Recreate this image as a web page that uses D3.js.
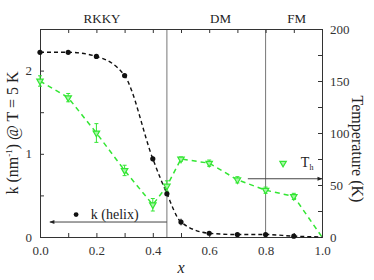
<!DOCTYPE html>
<html>
<head>
<meta charset="utf-8">
<script src="https://cdn.jsdelivr.net/npm/d3@7"></script>
<style>
  body { margin: 0; background: #fff; }
  svg, svg text { font-family: 'Liberation Serif', 'Times New Roman', Times, serif !important; }
</style>
</head>
<body>
<div id="chart"></div>
<script>
// k of the helix (left axis) vs concentration x
const kX   = [0, 0.1, 0.2, 0.3, 0.4, 0.45, 0.5, 0.6, 0.7, 0.8, 0.9];
const kVal = [2.22, 2.22, 2.17, 1.94, 0.94, 0.52, 0.18, 0.045, 0.03, 0.03, 0.01];
const kErr = [0, 0, 0, 0, 0.03, 0.03, 0.04, 0, 0, 0, 0];
// dashed guide for k ends at x = 1
const kLineX = [0, 0.1, 0.2, 0.3, 0.4, 0.45, 0.5, 0.6, 0.7, 0.8, 0.9, 1.0];
const kLineV = [2.22, 2.22, 2.17, 1.94, 0.94, 0.52, 0.18, 0.045, 0.03, 0.03, 0.01, 0];

// T_h (right axis)
const tX   = [0, 0.1, 0.2, 0.3, 0.4, 0.45, 0.5, 0.6, 0.7, 0.8, 0.9, 1.0];
const tVal = [150, 134, 100, 64, 31, 49, 75, 71, 55, 45, 39, 0];
const tErr = [5, 4, 9, 5, 6, 5, 2, 3, 3, 3, 3, 0];
const tMarkers = 11; // last point (x = 1) has no marker

const phaseLines = [0.45, 0.8];
const phaseLabels = [{ name: 'RKKY', x: 0.22 }, { name: 'DM', x: 0.64 }, { name: 'FM', x: 0.91 }];

const xTicks = [0, 0.2, 0.4, 0.6, 0.8, 1.0];
const kTicks = [0, 1, 2];
const tTicks = [0, 50, 100, 150, 200];

const W = 374, H = 280;
const margin = { top: 29, right: 52, bottom: 43, left: 40 };
const width = W - margin.left - margin.right,
      height = H - margin.top - margin.bottom;

const green = '#33e633';
const serif = "'Liberation Serif', 'Times New Roman', serif";

const svg = d3.select('#chart').append('svg')
    .attr('width', W)
    .attr('height', H)
    .attr('font-family', serif);
const g = svg.append('g')
    .attr('transform', `translate(${margin.left},${margin.top})`);

const x = d3.scaleLinear().domain([0, 1]).range([0, width]);
const yK = d3.scaleLinear().domain([0, 2.5]).range([height, 0]);
const yT = d3.scaleLinear().domain([0, 200]).range([height, 0]);

// phase boundaries
g.selectAll('.phase')
    .data(phaseLines)
    .enter().append('line')
    .attr('x1', d => x(d)).attr('x2', d => x(d))
    .attr('y1', 0).attr('y2', height)
    .attr('stroke', '#777').attr('stroke-width', 1);

g.selectAll('.plabel')
    .data(phaseLabels)
    .enter().append('text')
    .attr('x', d => x(d.x))
    .attr('y', -6)
    .attr('text-anchor', 'middle')
    .attr('fill', '#222')
    .style('font-size', '13px')
    .text(d => d.name);

// axes (ticks inward)
function styleAxis(sel) {
    sel.attr('font-family', serif);
    sel.select('.domain').attr('stroke', '#333');
    sel.selectAll('.tick line').attr('stroke', '#333');
    sel.selectAll('.tick text').attr('font-size', 13).attr('fill', '#333');
}

const minorX = d3.range(0, 1.001, 0.1);

g.append('g')
    .attr('transform', `translate(0,${height})`)
    .call(d3.axisBottom(x).tickValues(minorX).tickSize(-4).tickPadding(9)
        .tickFormat(d => xTicks.some(t => Math.abs(t - d) < 1e-6) ? d3.format('.1f')(d) : ''))
    .call(styleAxis);

g.append('g')
    .call(d3.axisTop(x).tickValues(minorX).tickSize(-4).tickFormat(''))
    .call(styleAxis);

g.append('g')
    .call(d3.axisLeft(yK).tickValues(d3.range(0, 2.51, 0.5)).tickSize(-4).tickPadding(8)
        .tickFormat(d => kTicks.includes(d) ? d : ''))
    .call(styleAxis);

g.append('g')
    .attr('transform', `translate(${width},0)`)
    .call(d3.axisRight(yT).tickValues(d3.range(0, 201, 25)).tickSize(-4).tickPadding(8)
        .tickFormat(d => tTicks.includes(d) ? d : ''))
    .call(styleAxis);

// axis titles
const leftTitle = svg.append('text')
    .attr('transform', `translate(18,${margin.top + height / 2}) rotate(-90)`)
    .attr('text-anchor', 'middle')
    .attr('fill', '#222')
    .style('font-size', '16px');
leftTitle.append('tspan').text('k (nm');
leftTitle.append('tspan').attr('dy', -6).style('font-size', '9px').text('-1');
leftTitle.append('tspan').attr('dy', 6).text(') @ T = 5 K');

svg.append('text')
    .attr('transform', `translate(352,${margin.top + height / 2 + 16}) rotate(90)`)
    .attr('text-anchor', 'middle')
    .attr('fill', '#222')
    .style('font-size', '16px')
    .text('Temperature (K)');

svg.append('text')
    .attr('x', margin.left + width / 2)
    .attr('y', 273)
    .attr('text-anchor', 'middle')
    .attr('fill', '#222')
    .style('font-size', '16px')
    .style('font-style', 'italic')
    .text('x');

// k curve
const kLine = d3.line()
    .x((d, i) => x(kLineX[i]))
    .y(d => yK(d))
    .curve(d3.curveMonotoneX);

g.append('path')
    .datum(kLineV)
    .attr('d', kLine)
    .attr('fill', 'none')
    .attr('stroke', '#111')
    .attr('stroke-width', 1.4)
    .attr('stroke-dasharray', '4,3');

// T_h curve
const tLine = d3.line()
    .x((d, i) => x(tX[i]))
    .y(d => yT(d));

g.append('path')
    .datum(tVal)
    .attr('d', tLine)
    .attr('fill', 'none')
    .attr('stroke', green)
    .attr('stroke-width', 1.5)
    .attr('stroke-dasharray', '5,4');

// T_h error bars + markers
const tData = tX.slice(0, tMarkers).map((v, i) => ({ x: v, t: tVal[i], e: tErr[i] }));
const tri = d3.symbol().type(d3.symbolTriangle).size(18);

const tErrG = g.selectAll('.terr').data(tData).enter().append('g');
tErrG.append('line')
    .attr('x1', d => x(d.x)).attr('x2', d => x(d.x))
    .attr('y1', d => yT(d.t - d.e)).attr('y2', d => yT(d.t + d.e))
    .attr('stroke', green).attr('stroke-width', 1);
tErrG.append('line')
    .attr('x1', d => x(d.x) - 2).attr('x2', d => x(d.x) + 2)
    .attr('y1', d => yT(d.t + d.e)).attr('y2', d => yT(d.t + d.e))
    .attr('stroke', green);
tErrG.append('line')
    .attr('x1', d => x(d.x) - 2).attr('x2', d => x(d.x) + 2)
    .attr('y1', d => yT(d.t - d.e)).attr('y2', d => yT(d.t - d.e))
    .attr('stroke', green);

g.selectAll('.tmark')
    .data(tData)
    .enter().append('path')
    .attr('d', tri)
    .attr('transform', d => `translate(${x(d.x)},${yT(d.t)}) rotate(180)`)
    .attr('fill', '#a8f5a8')
    .attr('stroke', green)
    .attr('stroke-width', 1.2);

// k markers + error bars
const kData = kX.map((v, i) => ({ x: v, k: kVal[i], e: kErr[i] }));
g.selectAll('.kerr')
    .data(kData.filter(d => d.e > 0))
    .enter().append('line')
    .attr('x1', d => x(d.x)).attr('x2', d => x(d.x))
    .attr('y1', d => yK(d.k - d.e)).attr('y2', d => yK(d.k + d.e))
    .attr('stroke', '#111');

g.selectAll('.kmark')
    .data(kData)
    .enter().append('circle')
    .attr('cx', d => x(d.x))
    .attr('cy', d => yK(d.k))
    .attr('r', 2.6)
    .attr('fill', '#111');

// legend arrows
const defs = svg.append('defs');
defs.append('marker')
    .attr('id', 'arrow')
    .attr('viewBox', '0 0 10 10')
    .attr('refX', 9).attr('refY', 5)
    .attr('markerWidth', 7).attr('markerHeight', 5)
    .attr('orient', 'auto')
    .append('path')
    .attr('d', 'M0,1 L10,5 L0,9 Z')
    .attr('fill', '#222');

g.append('line')
    .attr('x1', x(0.45)).attr('x2', x(0.035))
    .attr('y1', yK(0.18)).attr('y2', yK(0.18))
    .attr('stroke', '#444').attr('stroke-width', 1)
    .attr('marker-end', 'url(#arrow)');

g.append('circle')
    .attr('cx', x(0.128)).attr('cy', yK(0.27))
    .attr('r', 2.4).attr('fill', '#111');
g.append('text')
    .attr('x', x(0.18)).attr('y', yK(0.22))
    .attr('fill', '#222')
    .style('font-size', '14px')
    .text('k (helix)');

g.append('line')
    .attr('x1', x(0.737)).attr('x2', x(1.0))
    .attr('y1', yT(56)).attr('y2', yT(56))
    .attr('stroke', '#444').attr('stroke-width', 1)
    .attr('marker-end', 'url(#arrow)');

g.append('path')
    .attr('d', tri)
    .attr('transform', `translate(${x(0.862)},${yT(71)}) rotate(180)`)
    .attr('fill', '#a8f5a8')
    .attr('stroke', green)
    .attr('stroke-width', 1.2);

const th = g.append('text')
    .attr('x', x(0.925)).attr('y', yT(67))
    .attr('fill', '#222')
    .style('font-size', '14px');
th.append('tspan').text('T');
th.append('tspan').attr('dy', 3).style('font-size', '8px').text('h');
</script>
</body>
</html>
